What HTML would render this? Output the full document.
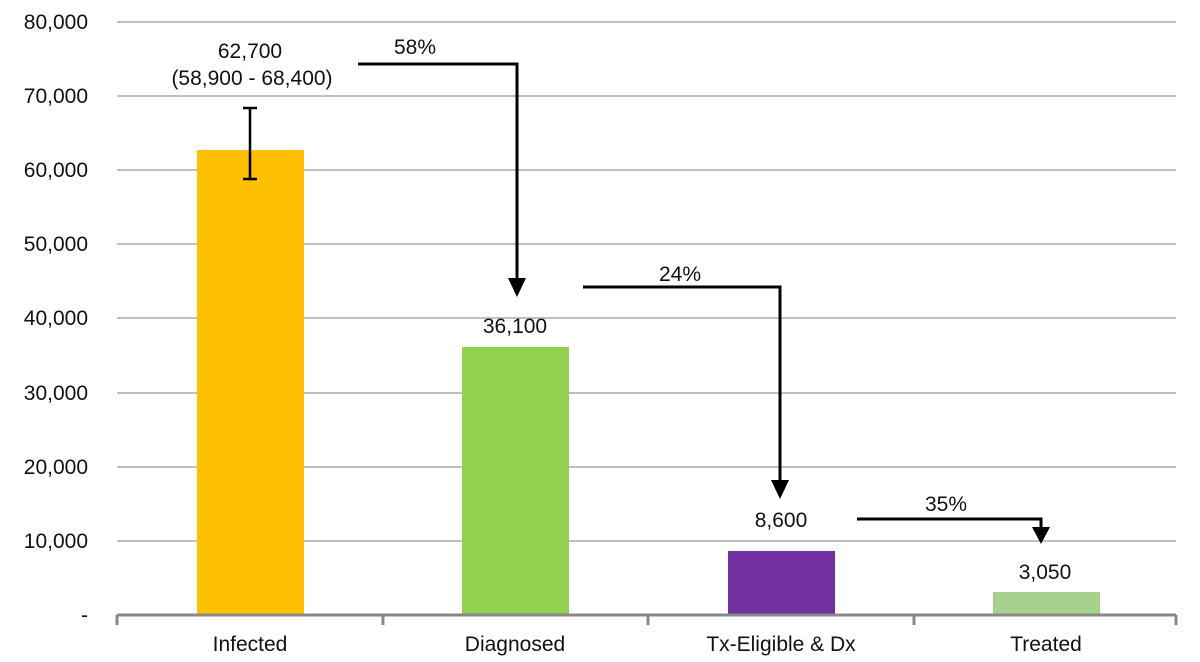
<!DOCTYPE html>
<html><head><meta charset="utf-8"><style>body{margin:0;background:#fff}svg{display:block}text{font-family:"Liberation Sans",Arial,sans-serif;font-size:21px;fill:#111}</style></head><body>
<svg width="1200" height="662" viewBox="0 0 1200 662">
<g stroke="#c0c0c0" stroke-width="2">
<line x1="117" x2="1176" y1="22" y2="22"/><line x1="117" x2="1176" y1="96" y2="96"/><line x1="117" x2="1176" y1="170" y2="170"/><line x1="117" x2="1176" y1="244" y2="244"/><line x1="117" x2="1176" y1="318" y2="318"/><line x1="117" x2="1176" y1="393" y2="393"/><line x1="117" x2="1176" y1="467" y2="467"/><line x1="117" x2="1176" y1="541" y2="541"/>
</g>
<g text-anchor="end">
<text x="88" y="29">80,000</text><text x="88" y="103">70,000</text><text x="88" y="177">60,000</text><text x="88" y="251">50,000</text><text x="88" y="325">40,000</text><text x="88" y="400">30,000</text><text x="88" y="474">20,000</text><text x="88" y="548">10,000</text><text x="88" y="622">-</text>
</g>
<rect x="197" y="150" width="107" height="465" fill="#fec000"/>
<rect x="462" y="347" width="107" height="268" fill="#92d050"/>
<rect x="728" y="551" width="107" height="64" fill="#7030a0"/>
<rect x="993" y="592" width="107" height="23" fill="#a9d18e"/>
<g stroke="#888" stroke-width="3" fill="none">
<line x1="117" x2="1176" y1="615" y2="615"/>
<line x1="117" x2="117" y1="615" y2="625"/><line x1="383" x2="383" y1="615" y2="625"/><line x1="648" x2="648" y1="615" y2="625"/><line x1="914" x2="914" y1="615" y2="625"/><line x1="1176" x2="1176" y1="615" y2="625"/>
</g>
<g stroke="#000" stroke-width="2.5" fill="none">
<line x1="250" x2="250" y1="108" y2="179"/><line x1="243" x2="257" y1="108" y2="108"/><line x1="243" x2="257" y1="179" y2="179"/>
</g>
<g stroke="#000" stroke-width="3" fill="none">
<polyline points="358,64 517,64 517,280"/>
<polyline points="583,287 780,287 780,482"/>
<polyline points="857,519 1041,519 1041,530"/>
</g>
<g fill="#000">
<polygon points="508,278 526,278 517,297"/>
<polygon points="771,480 789,480 780,499"/>
<polygon points="1032,527 1050,527 1041,544"/>
</g>
<g text-anchor="middle">
<text x="250" y="58">62,700</text><text x="252" y="85">(58,900 - 68,400)</text>
<text x="415" y="54">58%</text>
<text x="515" y="333">36,100</text>
<text x="680" y="281">24%</text>
<text x="781" y="527">8,600</text>
<text x="946" y="511">35%</text>
<text x="1045" y="579">3,050</text>
<text x="250" y="651">Infected</text><text x="515" y="651">Diagnosed</text><text x="781" y="651">Tx-Eligible &amp; Dx</text><text x="1046" y="651">Treated</text>
</g>
</svg>
</body></html>
